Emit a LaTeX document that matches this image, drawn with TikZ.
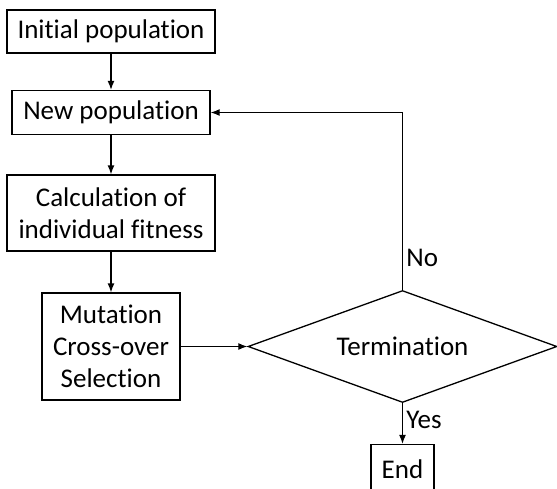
\documentclass[tikz,border=0pt]{standalone}
\usepackage{fontspec}
\setmainfont[Ligatures=NoCommon]{Carlito}
\usetikzlibrary{shapes.geometric,arrows.meta}

\begin{document}
\begin{tikzpicture}[auto, >={Latex[length=9pt,width=7pt]},
    line width=1.3pt,
    every node/.style={font=\fontsize{27}{32}\selectfont},
    block/.style={
            draw,
            rectangle,
            align=center,
            inner sep=0pt
        },
        decision/.style={
            draw,
            diamond,
            aspect=2.76,
            inner sep=0pt,
            minimum width=309pt,
            minimum height=112pt
        }
]
    \useasboundingbox (0,0) rectangle (557pt,-488pt);

    \node [block, minimum width=208pt, minimum height=43pt] (init) at (111pt,-31.5pt) {Initial population};
    \node [block, below of=init, node distance=81pt,
            minimum width=198pt, minimum height=44pt] (newpop) {New population};
    \node [block, below of=newpop, node distance=100.5pt,
            minimum width=208pt, minimum height=76pt] (calc) {Calculation of\\individual fitness};
    \node [block, below of=calc, node distance=133.5pt,
            minimum width=138pt, minimum height=107pt] (mut) {Mutation\\Cross-over\\Selection};
    \node [decision, right of=mut, node distance=291.5pt] (term) {Termination};
    \node [block, below of=term, node distance=123pt,
            minimum width=63pt, minimum height=50pt] (end) {End};

    \draw [->] (init) -- (newpop);
    \draw [->] (newpop) -- (calc);
    \draw [->] (calc) -- (mut);
    \draw [->] (mut) -- (term);
    \draw [->] (term.north) |- node[pos=0.09, right] {No} (newpop.east);
    \draw [->] (term.south) -- node[pos=0.4, right] {Yes} (end);
\end{tikzpicture}
\end{document}
